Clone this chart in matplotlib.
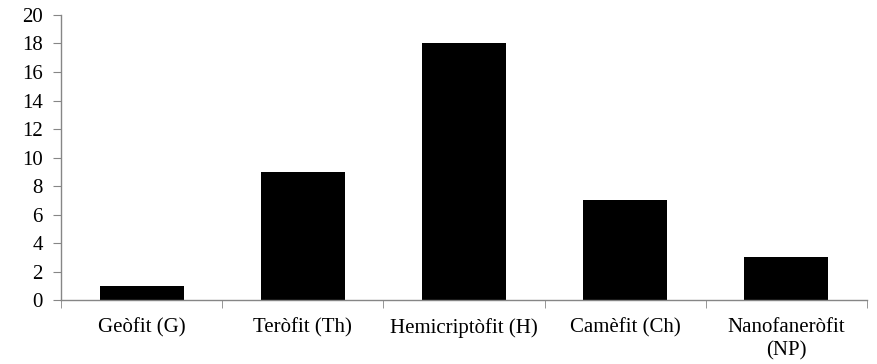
import numpy as np
import matplotlib.pyplot as plt
from matplotlib.ticker import FixedLocator

# =============================================================================
# Data
# =============================================================================
categories = ['Geòfit (G)', 'Teròfit (Th)', 'Hemicriptòfit (H)',
              'Camèfit (Ch)', 'Nanofaneròfit\n(NP)']
counts     = [1, 9, 18, 7, 3]

# =============================================================================
# Plot
# =============================================================================
plt.rcParams['font.family'] = ['Liberation Serif', 'DejaVu Serif']

fig = plt.figure(figsize=(8.77, 3.64), dpi=100)
ax = fig.add_axes([0.0696, 0.1758, 0.9190, 0.7830])

x = np.arange(len(categories))
ax.bar(x, counts, width=0.52, color='black')

ax.set_xlim(-0.5, len(categories) - 0.5)
ax.set_ylim(0, 20)
ax.set_yticks(np.arange(0, 21, 2))

ax.set_xticks(x)
ax.set_xticklabels(categories, fontsize=15, linespacing=1.3)
ax.xaxis.set_minor_locator(FixedLocator(np.arange(-0.5, len(categories), 1.0)))
ax.tick_params(axis='x', which='major', length=0, pad=13)
ax.tick_params(axis='x', which='minor', length=6, color='#868686', direction='out')
ax.tick_params(axis='y', length=6, color='#868686', direction='out',
               labelsize=15, pad=7)

for side in ['top', 'right']:
    ax.spines[side].set_visible(False)
for side in ['left', 'bottom']:
    ax.spines[side].set_color('#868686')
    ax.spines[side].set_linewidth(1.0)

fig.savefig('out.png', dpi=100)
